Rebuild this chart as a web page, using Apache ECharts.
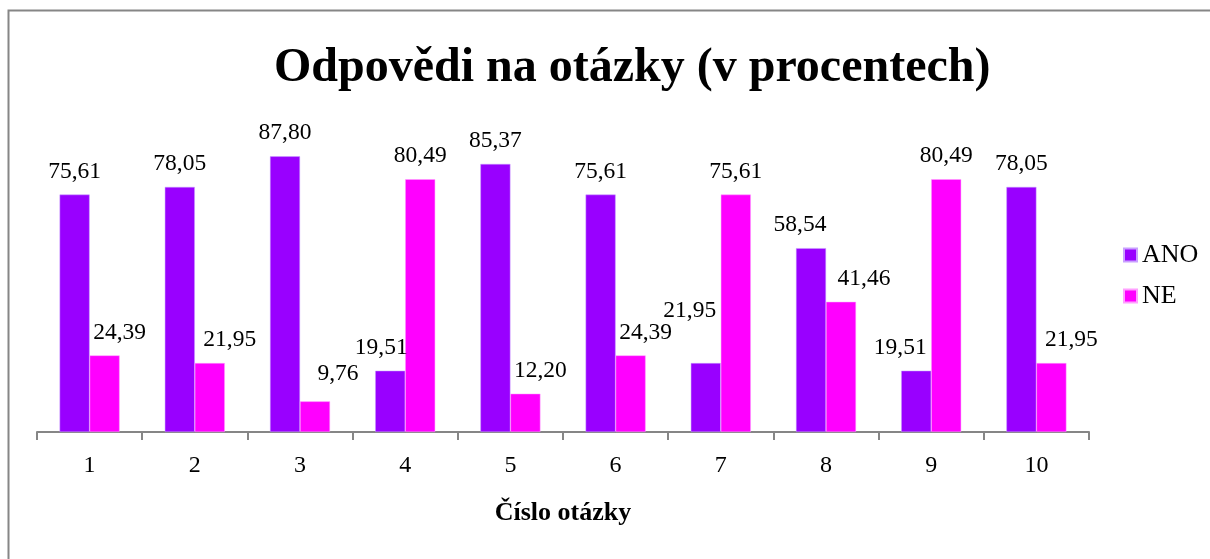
<!DOCTYPE html>
<html>
<head>
<meta charset="utf-8">
<script src="https://cdn.jsdelivr.net/npm/echarts@6/dist/echarts.min.js"></script>
<style>
html,body{margin:0;padding:0;background:#fff;}
#chart{width:1210px;height:559px;}
</style>
</head>
<body>
<div id="chart"></div>
<script>
var categories = ['1','2','3','4','5','6','7','8','9','10'];
var valuesANO = [75.61, 78.05, 87.80, 19.51, 85.37, 75.61, 21.95, 58.54, 19.51, 78.05];
var valuesNE  = [24.39, 21.95, 9.76, 80.49, 12.20, 24.39, 75.61, 41.46, 80.49, 21.95];
var seriesNames = ['ANO', 'NE'];
var titleText = 'Odpovědi na otázky (v procentech)';
var xAxisTitle = 'Číslo otázky';

// label nudges (styling only), [dx, dy] per category
var nudgeANO = [[0,0],[0,0],[0,0],[-9,0],[0,0],[0,0],[-16,-29],[-11,0],[-16,0],[0,0]];
var nudgeNE  = [[15,0],[20,0],[23,-5],[0,0],[15,0],[15,0],[0,0],[23,0],[0,0],[20,0]];

var FONT = '"Liberation Serif", "Times New Roman", serif';

function fmt(v){ return v.toFixed(2).replace('.', ','); }

function buildData(vals, nudges){
  return vals.map(function(v, i){
    return { value: v, label: { offset: nudges[i] } };
  });
}

var chart = echarts.init(document.getElementById('chart'));
chart.setOption({
  backgroundColor: '#ffffff',
  animation: false,
  title: {
    text: titleText,
    left: 269,
    top: 40,
    textStyle: { fontFamily: FONT, fontWeight: 'bold', fontSize: 48, color: '#000' }
  },
  legend: {
    orient: 'vertical',
    left: 1118,
    top: 237,
    itemWidth: 13,
    itemHeight: 13,
    itemGap: 15,
    icon: 'rect',
    textStyle: { fontFamily: FONT, fontSize: 26, color: '#000' },
    data: seriesNames
  },
  graphic: [{
    type: 'rect',
    shape: { x: 8.5, y: 10.5, width: 1300, height: 700 },
    style: { fill: 'none', stroke: '#868686', lineWidth: 2 },
    silent: true
  }],
  grid: { left: 37, right: 121, top: 118, bottom: 127 },
  xAxis: {
    type: 'category',
    data: categories,
    name: xAxisTitle,
    nameLocation: 'middle',
    nameGap: 68,
    nameTextStyle: { fontFamily: FONT, fontWeight: 'bold', fontSize: 26, color: '#000' },
    axisLine: { show: true, lineStyle: { color: '#868686', width: 2 } },
    axisTick: { show: true, length: 8, lineStyle: { color: '#868686', width: 2 } },
    axisLabel: { fontFamily: FONT, fontSize: 24, color: '#000', margin: 22 }
  },
  yAxis: {
    type: 'value', min: 0, max: 100, show: false,
    splitLine: { show: false }
  },
  series: [
    {
      name: seriesNames[0], type: 'bar', barWidth: 30, barGap: '0%',
      itemStyle: { color: '#9900FF', borderColor: '#C9A0FF', borderWidth: 0.5 },
      label: { show: true, position: 'top', distance: 11, fontFamily: FONT, fontSize: 23.5, color: '#000',
               formatter: function(p){ return fmt(p.value); } },
      data: buildData(valuesANO, nudgeANO)
    },
    {
      name: seriesNames[1], type: 'bar', barWidth: 30, barGap: '0%',
      itemStyle: { color: '#FF00FF', borderColor: '#FFA0FF', borderWidth: 0.5 },
      label: { show: true, position: 'top', distance: 11, fontFamily: FONT, fontSize: 23.5, color: '#000',
               formatter: function(p){ return fmt(p.value); } },
      data: buildData(valuesNE, nudgeNE)
    }
  ]
});
</script>
</body>
</html>
